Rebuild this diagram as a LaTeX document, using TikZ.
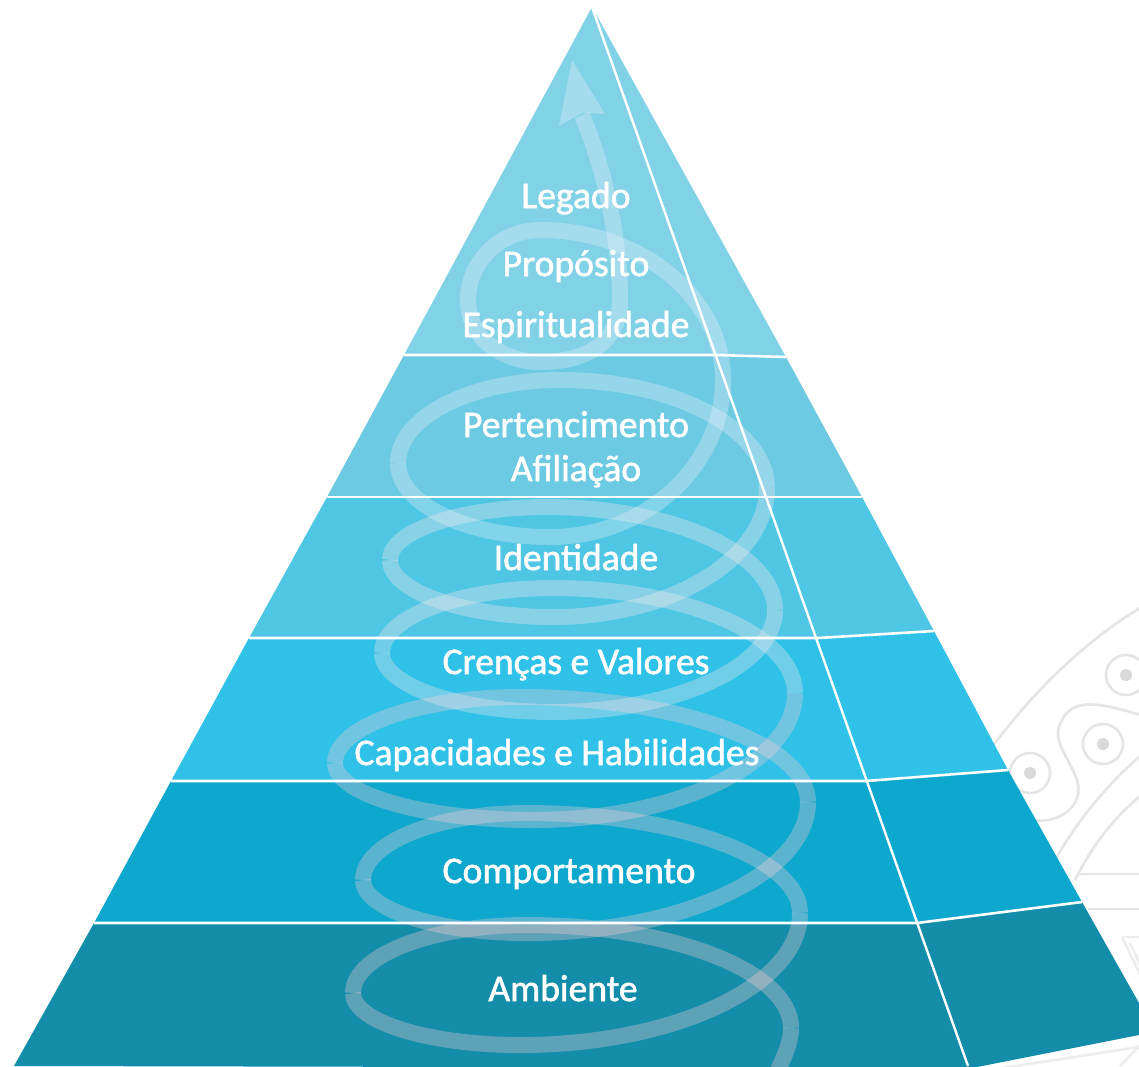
\documentclass[tikz,border=0pt]{standalone}
\usepackage{fontspec}
\setmainfont{Carlito}[FakeBold=1.5]
\definecolor{bandA}{HTML}{81D2E7}
\definecolor{bandB}{HTML}{6CCAE2}
\definecolor{bandC}{HTML}{4FC6E4}
\definecolor{bandD}{HTML}{2FC1E7}
\definecolor{bandE}{HTML}{0EA7CD}
\definecolor{bandF}{HTML}{138DA9}
\definecolor{coilTop}{RGB}{238,242,252}
\definecolor{coilMid}{RGB}{255,236,240}
\definecolor{coilLow}{RGB}{255,208,214}
\colorlet{coilcol}{coilLow}
\tikzset{
  sep/.style={draw=white,line width=2.6pt},
  ridge/.style={draw=white,line width=2.4pt},
  coil/.style={draw=coilcol,draw opacity=.32,line width=16pt,line cap=butt},
  bgline/.style={draw=black!10,line width=2.6pt},
  lab/.style={text=white,anchor=base,inner sep=0pt,font=\fontsize{37.6}{38}\selectfont},
}
% half turn: from (#1,#2) via horizontal-tangent point (#3,#4) to (#5,#6)
\newcommand{\halfturn}[6]{%
  \pgfmathsetmacro{\hg}{(#4<#2)?-.07:.07}%
  \draw[coil] (#1,{#2+\hg}) .. controls (#1,{#2+.55*(#4-#2)}) and ({#3+.55*(#1-#3)},#4) .. (#3,#4)
     .. controls ({#3+.55*(#5-#3)},#4) and (#5,{#6+.55*(#4-#6)}) .. (#5,{#6+\hg});}
\begin{document}
\begin{tikzpicture}[x=1pt,y=-1pt]
\useasboundingbox (0,0) rectangle (1139,1066);
\clip (0,0) rectangle (1139,1066);
\fill[white] (0,0) rectangle (1139,1066);
% faint ornament behind the pyramid
\draw[bgline] (990,750) .. controls (1030,695) and (1085,640) .. (1145,605);
\draw[bgline] (1030,820) .. controls (1060,825) and (1085,805) .. (1077,780)
  .. controls (1068,755) and (1050,740) .. (1062,720)
  .. controls (1075,695) and (1105,705) .. (1145,716);
\draw[bgline] (1055,860) .. controls (1075,825) and (1105,785) .. (1145,752);
\draw[bgline] (1075,880) .. controls (1090,850) and (1110,820) .. (1145,792);
\draw[bgline] (1078,874) -- (1145,874);
\draw[bgline] (1088,909) -- (1145,909);
\draw[bgline,draw=black!7] (1122,937) -- (1145,937);
\draw[bgline,draw=black!7] (1122,937) -- (1145,985);
\draw[bgline,draw=black!7] (1130,943) -- (1145,975);
\draw[bgline,draw=black!7] (1120,1066) -- (1145,1040);
\draw[bgline,draw=black!7] (990,1070) -- (1145,1046);
\foreach \cx/\cy in {1030/773,1103/744,1126/675}{
  \draw[bgline] (\cx,\cy) circle (20);
  \fill[black!15] (\cx,\cy) circle (6);
}
% faces
\fill[bandA] (592,7) -- (404,355) -- (716,355) -- (786,357) -- cycle;
\fill[bandB] (404,355) -- (327,497) -- (862,497) -- (786,357) -- (716,355) -- cycle;
\fill[bandC] (327,497) -- (249,638) -- (818,638) -- (934,631) -- (862,497) -- cycle;
\fill[bandD] (249,638) -- (171,781) -- (866,781) -- (1008,770) -- (934,631) -- (818,638) -- cycle;
\fill[bandE] (171,781) -- (94,923) -- (917,923) -- (1082,902) -- (1008,770) -- (866,781) -- cycle;
\fill[bandF] (94,923) -- (14,1066) -- (972,1068) -- (1139,1035) -- (1139,1003) -- (1082,902) -- (917,923) -- cycle;
% spiral
\draw[coil] (777,1072) .. controls (785,1055) and (791,1042) .. (791,1028.07);
\halfturn{791}{1028}{527}{925}{353}{993}
\halfturn{353}{993}{520}{1045}{800}{913}
\halfturn{800}{913}{527}{813}{363}{880}
\halfturn{363}{880}{527}{933}{808}{802}
\halfturn{808}{802}{520}{697}{335}{763}
\halfturn{335}{763}{533}{820}{795}{693}
\colorlet{coilcol}{coilMid}
\halfturn{795}{693}{553}{588}{382}{653}
\halfturn{382}{653}{553}{712}{775}{610}
\halfturn{775}{610}{547}{507}{390}{560}
\halfturn{390}{560}{553}{617}{767}{488}
\colorlet{coilcol}{coilTop}
\halfturn{767}{488}{560}{380}{398}{463}
\halfturn{398}{463}{550}{537}{723}{380}
\halfturn{723}{380}{540}{230}{468}{300}
\draw[coil] (468,300.07) .. controls (468,340) and (505,362) .. (540,362)
  .. controls (590,362) and (620,340) .. (620,300)
  .. controls (620,240) and (605,170) .. (582,115);
\fill[coilcol,fill opacity=.32] (572,60) -- (605,114) -- (582,113) -- (559,126) -- cycle;
% separators
\draw[sep] (404,355) -- (716,355) -- (786,357);
\draw[sep] (327,497) -- (770,497) -- (862,497);
\draw[sep] (249,638) -- (818,638) -- (934,631);
\draw[sep] (171,781) -- (866,781) -- (1008,770);
\draw[sep] (94,923) -- (917,923) -- (1082,902);
\coordinate (apex) at (592,7);
\coordinate (foot) at (968,1066);
\draw[ridge] (apex) -- (foot);
% labels
\node[lab] (legado) at (576,208) {Legado};
\node[lab] (proposito) at (576,276) {Propósito};
\node[lab] (espirit) at (576,337) {Espiritualidade};
\node[lab] (perten) at (576,437) {Pertencimento};
\node[lab] (afil) at (576,481) {Afiliação};
\node[lab] (ident) at (576,570) {Identidade};
\node[lab] (crencas) at (576,674) {Crenças e Valores};
\node[lab] (capac) at (557,765) {Capacidades e Habilidades};
\node[lab] (comport) at (569,883) {Comportamento};
\node[lab] (ambiente) at (563,1001) {Ambiente};
\end{tikzpicture}
\end{document}
